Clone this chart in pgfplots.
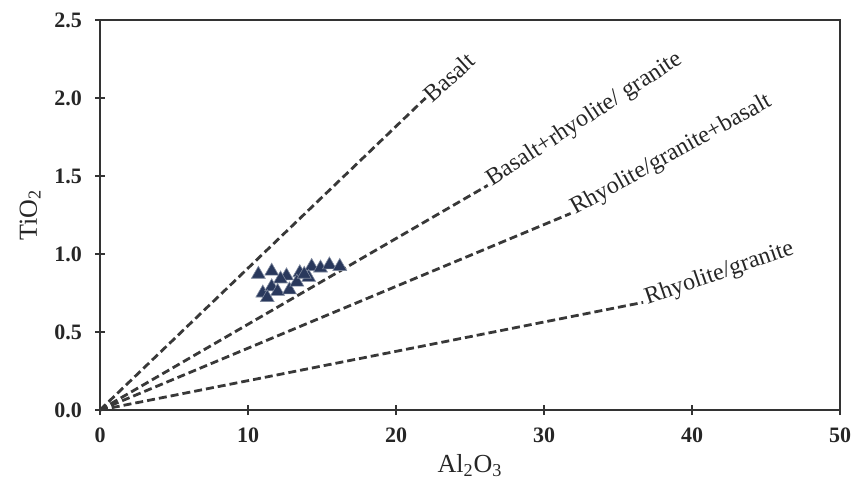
\documentclass[border=0pt]{standalone}
\usepackage{fontspec}
\setmainfont{Liberation Serif}
\usepackage{pgfplots}
\pgfplotsset{compat=1.18}
\definecolor{mk}{rgb}{0.16,0.22,0.36}
\definecolor{dl}{rgb}{0.22,0.22,0.22}
\begin{document}
\begin{tikzpicture}
\begin{axis}[
  scale only axis, width=370pt, height=195pt,
  xmin=0, xmax=50, ymin=0, ymax=2.5,
  xtick={0,10,...,50}, ytick={0,0.5,...,2.5},
  /pgf/number format/assume math mode=true,
  yticklabel style={/pgf/number format/fixed,/pgf/number format/fixed zerofill,/pgf/number format/precision=1, xshift=-3pt},
  xticklabel style={yshift=-3pt},
  tick label style={font=\bfseries\fontsize{11}{12}\selectfont, text=black!85},
  tick align=center, major tick length=5pt,
  xtick pos=bottom, ytick pos=left,
  axis line style={line width=1.3pt, black!80},
  every tick/.style={line width=0.8pt, black!80},
  xlabel={Al\textsubscript{2}O\textsubscript{3}}, ylabel={TiO\textsubscript{2}},
  label style={font=\fontsize{13}{14}\selectfont, text=black!85},
  xlabel style={yshift=1pt}, ylabel style={yshift=0pt},
  clip=false,
]
\addplot[dl, line width=1.4pt, dash pattern=on 4pt off 2pt] coordinates {(0,0) (22,2.0)}
  node[pos=1, anchor=south west, rotate=42, inner sep=1pt, xshift=-1pt, yshift=-6pt, font=\fontsize{12}{13}\selectfont, text=black!85] {Basalt};
\addplot[dl, line width=1.4pt, dash pattern=on 4pt off 2pt] coordinates {(0,0) (26.2,1.44)}
  node[pos=1, anchor=south west, rotate=33, inner sep=1pt, yshift=-6pt, font=\fontsize{12}{13}\selectfont, text=black!85] {Basalt+rhyolite/ granite};
\addplot[dl, line width=1.4pt, dash pattern=on 4pt off 2pt] coordinates {(0,0) (31.8,1.26)}
  node[pos=1, anchor=south west, rotate=29, inner sep=1pt, yshift=-6pt, font=\fontsize{12}{13}\selectfont, text=black!85] {Rhyolite/granite+basalt};
\addplot[dl, line width=1.4pt, dash pattern=on 4pt off 2pt] coordinates {(0,0) (36.7,0.69)}
  node[pos=1, anchor=south west, rotate=19, inner sep=1pt, yshift=-6pt, font=\fontsize{12}{13}\selectfont, text=black!85] {Rhyolite/granite};
\addplot[only marks, mark=triangle*, mark size=4pt, mark options={fill=mk, draw=mk!60!white, line width=0.3pt}] coordinates {
(10.7,0.87) (11.6,0.89) (12.6,0.86) (13.5,0.88) (14.3,0.92) (14.9,0.91) (15.5,0.93) (16.2,0.92)
(11.0,0.75) (11.6,0.79) (12.0,0.76) (12.8,0.77) (13.3,0.82) (14.1,0.85) (12.2,0.84) (13.8,0.87) (11.3,0.72)
};
\end{axis}
\path (current axis.south west) ++(-50pt,-36pt) (current axis.north east) ++(11pt,10pt);
\end{tikzpicture}
\end{document}
